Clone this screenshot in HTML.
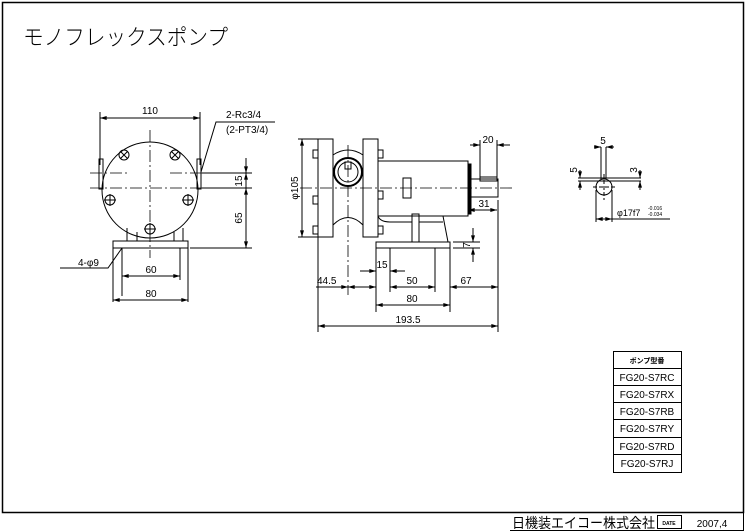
<!DOCTYPE html>
<html><head><meta charset="utf-8"><style>
body{margin:0;background:#fff;}
svg{display:block;}
text{font-family:"Liberation Sans","Noto Sans CJK JP",sans-serif;fill:#000;}
</style></head><body>
<svg width="747" height="532" viewBox="0 0 747 532" xmlns="http://www.w3.org/2000/svg">
<defs>
<marker id="a" viewBox="0 0 10 6" refX="10" refY="3" markerWidth="8" markerHeight="4" orient="auto-start-reverse"><path d="M0,0L10,3L0,6z" fill="#000"/></marker>
</defs>
<g fill="none" stroke="#000" stroke-width="1">
<!-- frame -->
<rect x="2.5" y="2.5" width="741" height="510" stroke-width="1.5"/>
<line x1="510" y1="530.5" x2="743" y2="530.5"/>
<rect x="657.5" y="515.5" width="24" height="13"/>
<line x1="743.5" y1="512" x2="743.5" y2="531"/>

<!-- LEFT VIEW -->
<circle cx="150" cy="190" r="48"/>
<rect x="99" y="159" width="4" height="30"/>
<rect x="197" y="159" width="4" height="30"/>
<path d="M127,228 V241 M137,232 V241 M174,232 V241 M183,228 V241"/>
<rect x="113" y="241" width="75" height="7"/>
<g stroke-dasharray="12,3,2,3" stroke-width="0.8">
<line x1="90" y1="173" x2="130" y2="173"/><line x1="170" y1="173" x2="250" y2="173"/>
<line x1="90" y1="188" x2="250" y2="188"/>
<line x1="150" y1="130" x2="150" y2="258"/>
</g>
<g>
<circle cx="124" cy="155" r="5"/><path d="M120.5,151.5l7,7M127.5,151.5l-7,7"/>
<circle cx="175" cy="155" r="5"/><path d="M171.5,151.5l7,7M178.5,151.5l-7,7"/>
<circle cx="110" cy="200" r="5"/><path d="M104,200h12M110,194v12"/>
<circle cx="188" cy="200" r="5"/><path d="M182,200h12M188,194v12"/>
<circle cx="150" cy="229" r="5"/><path d="M144,229h12M150,223v12"/>
</g>
<path d="M100,112 V165 M200,112 V165"/>
<line x1="100" y1="118" x2="200" y2="118" marker-start="url(#a)" marker-end="url(#a)"/>
<path d="M190,248 H252 M202,173 H252 M202,188 H252"/>
<line x1="246" y1="158" x2="246" y2="173" marker-end="url(#a)"/>
<line x1="246" y1="188" x2="246" y2="173" marker-end="url(#a)"/>
<line x1="246" y1="188" x2="246" y2="248" marker-start="url(#a)" marker-end="url(#a)"/>
<path d="M201,172 L216,122 H275"/>
<path d="M60,268 H108 L122,248"/>
<path d="M122,248 V296 M180,248 V280 M113,248 V302 M188,248 V302"/>
<line x1="122" y1="276" x2="180" y2="276" marker-start="url(#a)" marker-end="url(#a)"/>
<line x1="113" y1="300" x2="188" y2="300" marker-start="url(#a)" marker-end="url(#a)"/>

<!-- MIDDLE VIEW -->
<rect x="318" y="139" width="15" height="98"/>
<rect x="363" y="139" width="15" height="98"/>
<path d="M333,155 Q348,145 363,155 M333,175 V225 Q348,210 363,225"/>
<circle cx="348" cy="172" r="14" stroke-width="2"/>
<circle cx="348" cy="172" r="10"/>
<rect x="345" y="162" width="6" height="7"/>
<g>
<rect x="313" y="150" width="5" height="8"/><rect x="313" y="196" width="5" height="8"/><rect x="313" y="226" width="5" height="8"/>
<rect x="378" y="150" width="5" height="8"/><rect x="378" y="191" width="5" height="8"/><rect x="378" y="226" width="5" height="8"/>
</g>
<rect x="378" y="161" width="90" height="55"/>
<rect x="468" y="164" width="3" height="50" fill="#000"/>
<rect x="471" y="179" width="27" height="18"/>
<rect x="480" y="177" width="17" height="4"/>
<rect x="403" y="178" width="8" height="20"/>
<path d="M412,242 V214 H419 V242 M443,216 L448,242"/>
<path d="M378,216 Q380,222 390,222 H412 M419,222 H443"/>
<rect x="376" y="242" width="74" height="6"/>
<line x1="300" y1="188" x2="512" y2="188" stroke-dasharray="12,3,2,3" stroke-width="0.8"/>
<line x1="348" y1="145" x2="348" y2="295" stroke-dasharray="12,3,2,3" stroke-width="0.8"/>
<path d="M298,139 H318 M298,237 H318"/>
<line x1="302" y1="139" x2="302" y2="237" marker-start="url(#a)" marker-end="url(#a)"/>
<path d="M480,140 V178 M497,140 V178"/>
<line x1="470" y1="145" x2="480" y2="145" marker-end="url(#a)"/>
<line x1="510" y1="145" x2="497" y2="145" marker-end="url(#a)"/>
<line x1="468" y1="210" x2="497" y2="210" marker-start="url(#a)" marker-end="url(#a)"/>
<path d="M453,242 H480 M453,248 H480"/>
<line x1="473" y1="228" x2="473" y2="242" marker-end="url(#a)"/>
<line x1="473" y1="262" x2="473" y2="248" marker-end="url(#a)"/>
<path d="M318,237 V332 M376,248 V312 M390,248 V292 M435,248 V292 M450,248 V312 M498,200 V332"/>
<line x1="316" y1="287" x2="348" y2="287" marker-end="url(#a)"/>
<line x1="348" y1="287" x2="376" y2="287" marker-start="url(#a)" marker-end="url(#a)"/>
<line x1="390" y1="287" x2="435" y2="287" marker-start="url(#a)" marker-end="url(#a)"/>
<line x1="450" y1="287" x2="498" y2="287" marker-start="url(#a)" marker-end="url(#a)"/>
<line x1="360" y1="271" x2="376" y2="271" marker-end="url(#a)"/>
<line x1="405" y1="271" x2="390" y2="271" marker-end="url(#a)"/>
<line x1="376" y1="305" x2="450" y2="305" marker-start="url(#a)" marker-end="url(#a)"/>
<line x1="318" y1="326" x2="498" y2="326" marker-start="url(#a)" marker-end="url(#a)"/>

<!-- RIGHT SMALL VIEW -->
<circle cx="604" cy="187" r="8"/>
<line x1="593" y1="187" x2="615" y2="187" stroke-dasharray="4,2"/>
<line x1="604" y1="174" x2="604" y2="200" stroke-dasharray="4,2"/>
<path d="M601,147 V179 M606,147 V179 M578,178 H641 M578,181 H641 M596,190 V222 M612,190 V222"/>
<line x1="594" y1="147" x2="601" y2="147" marker-end="url(#a)"/>
<line x1="614" y1="147" x2="606" y2="147" marker-end="url(#a)"/>
<line x1="580" y1="170" x2="580" y2="178" marker-end="url(#a)"/>
<line x1="580" y1="190" x2="580" y2="181" marker-end="url(#a)"/>
<line x1="640" y1="170" x2="640" y2="178" marker-end="url(#a)"/>
<line x1="640" y1="190" x2="640" y2="181" marker-end="url(#a)"/>
<line x1="596" y1="219" x2="612" y2="219" marker-start="url(#a)" marker-end="url(#a)"/>
<line x1="612" y1="219" x2="670" y2="219"/>

<!-- TABLE -->
<rect x="613.5" y="351.5" width="68" height="121"/>
<path d="M613,368.5 H682 M613,385.5 H682 M613,402.5 H682 M613,419.5 H682 M613,437.5 H682 M613,454.5 H682"/>
</g>

<g font-size="10">
<text x="23" y="45" font-size="22" textLength="205" lengthAdjust="spacingAndGlyphs" font-weight="300">モノフレックスポンプ</text>
<text x="150" y="114" text-anchor="middle">110</text>
<text x="226" y="118">2-Rc3/4</text>
<text x="226" y="133">(2-PT3/4)</text>
<text x="78" y="266">4-φ9</text>
<text x="151" y="273" text-anchor="middle">60</text>
<text x="151" y="297" text-anchor="middle">80</text>
<text transform="translate(242,181) rotate(-90)" text-anchor="middle">15</text>
<text transform="translate(242,218) rotate(-90)" text-anchor="middle">65</text>
<text transform="translate(298,188) rotate(-90)" text-anchor="middle">φ105</text>
<text x="488" y="143" text-anchor="middle">20</text>
<text x="484" y="207" text-anchor="middle">31</text>
<text transform="translate(470,245) rotate(-90)" text-anchor="middle">7</text>
<text x="317" y="284">44.5</text>
<text x="382" y="268" text-anchor="middle">15</text>
<text x="412" y="284" text-anchor="middle">50</text>
<text x="466" y="284" text-anchor="middle">67</text>
<text x="412" y="302" text-anchor="middle">80</text>
<text x="408" y="323" text-anchor="middle">193.5</text>
<text x="603" y="144" text-anchor="middle">5</text>
<text transform="translate(577,170) rotate(-90)" text-anchor="middle">5</text>
<text transform="translate(637,170) rotate(-90)" text-anchor="middle">3</text>
<text x="617" y="216" font-size="9">φ17f7</text>
<text x="648" y="210" font-size="5">-0.016</text>
<text x="648" y="216" font-size="5">-0.034</text>
<text x="647" y="363" text-anchor="middle" font-size="7" font-weight="bold">ポンプ型番</text>
<text x="647" y="381" text-anchor="middle">FG20-S7RC</text>
<text x="647" y="398" text-anchor="middle">FG20-S7RX</text>
<text x="647" y="415" text-anchor="middle">FG20-S7RB</text>
<text x="647" y="432" text-anchor="middle">FG20-S7RY</text>
<text x="647" y="450" text-anchor="middle">FG20-S7RD</text>
<text x="647" y="467" text-anchor="middle">FG20-S7RJ</text>
<text x="512" y="528" font-size="14" textLength="143" lengthAdjust="spacingAndGlyphs">日機装エイコー株式会社</text>
<text x="669" y="525" font-size="5" text-anchor="middle" font-weight="bold">DATE</text>
<text x="712" y="527" font-size="10" text-anchor="middle">2007,4</text>
</g>
</svg>
</body></html>
